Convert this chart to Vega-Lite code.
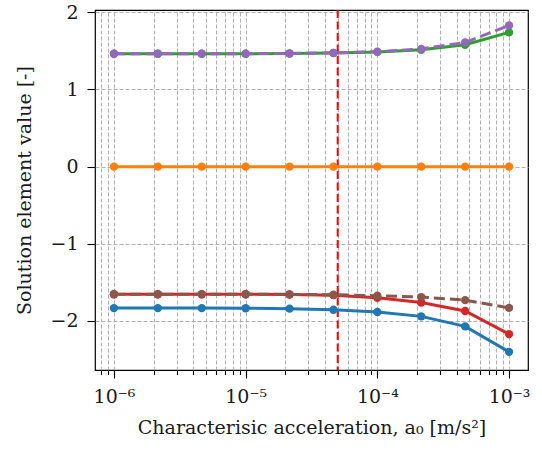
{
  "$schema": "https://vega.github.io/schema/vega-lite/v6.json",
  "width": 433,
  "height": 360,
  "autosize": "none",
  "padding": {"left": 95, "top": 10, "right": 14, "bottom": 83},
  "background": "white",
  "config": {
    "view": {"stroke": "black", "strokeWidth": 1.2},
    "font": "DejaVu Serif",
    "axis": {"labelFont": "DejaVu Serif", "titleFont": "DejaVu Serif", "labelColor": "#1a1a1a", "titleColor": "#1a1a1a", "titleFontWeight": "normal", "domain": false, "tickColor": "black", "tickWidth": 1.1, "labelFontSize": 19, "titleFontSize": 19}
  },
  "datasets": {
    "pts": [
      {"a": 1e-6, "v": -1.833, "s": "blue"}, {"a": 2.154e-6, "v": -1.833, "s": "blue"}, {"a": 4.642e-6, "v": -1.833, "s": "blue"}, {"a": 1e-5, "v": -1.835, "s": "blue"}, {"a": 2.154e-5, "v": -1.84, "s": "blue"}, {"a": 4.642e-5, "v": -1.855, "s": "blue"}, {"a": 1e-4, "v": -1.883, "s": "blue"}, {"a": 2.154e-4, "v": -1.94, "s": "blue"}, {"a": 4.642e-4, "v": -2.07, "s": "blue"}, {"a": 1e-3, "v": -2.40, "s": "blue"},
      {"a": 1e-6, "v": 0, "s": "orange"}, {"a": 2.154e-6, "v": 0, "s": "orange"}, {"a": 4.642e-6, "v": 0, "s": "orange"}, {"a": 1e-5, "v": 0, "s": "orange"}, {"a": 2.154e-5, "v": 0, "s": "orange"}, {"a": 4.642e-5, "v": 0, "s": "orange"}, {"a": 1e-4, "v": 0, "s": "orange"}, {"a": 2.154e-4, "v": 0, "s": "orange"}, {"a": 4.642e-4, "v": 0, "s": "orange"}, {"a": 1e-3, "v": 0, "s": "orange"},
      {"a": 1e-6, "v": 1.463, "s": "green"}, {"a": 2.154e-6, "v": 1.463, "s": "green"}, {"a": 4.642e-6, "v": 1.463, "s": "green"}, {"a": 1e-5, "v": 1.464, "s": "green"}, {"a": 2.154e-5, "v": 1.466, "s": "green"}, {"a": 4.642e-5, "v": 1.473, "s": "green"}, {"a": 1e-4, "v": 1.487, "s": "green"}, {"a": 2.154e-4, "v": 1.515, "s": "green"}, {"a": 4.642e-4, "v": 1.58, "s": "green"}, {"a": 1e-3, "v": 1.74, "s": "green"},
      {"a": 1e-6, "v": -1.653, "s": "red"}, {"a": 2.154e-6, "v": -1.653, "s": "red"}, {"a": 4.642e-6, "v": -1.653, "s": "red"}, {"a": 1e-5, "v": -1.654, "s": "red"}, {"a": 2.154e-5, "v": -1.656, "s": "red"}, {"a": 4.642e-5, "v": -1.665, "s": "red"}, {"a": 1e-4, "v": -1.70, "s": "red"}, {"a": 2.154e-4, "v": -1.76, "s": "red"}, {"a": 4.642e-4, "v": -1.87, "s": "red"}, {"a": 1e-3, "v": -2.17, "s": "red"},
      {"a": 1e-6, "v": 1.463, "s": "purple"}, {"a": 2.154e-6, "v": 1.463, "s": "purple"}, {"a": 4.642e-6, "v": 1.463, "s": "purple"}, {"a": 1e-5, "v": 1.464, "s": "purple"}, {"a": 2.154e-5, "v": 1.467, "s": "purple"}, {"a": 4.642e-5, "v": 1.475, "s": "purple"}, {"a": 1e-4, "v": 1.49, "s": "purple"}, {"a": 2.154e-4, "v": 1.525, "s": "purple"}, {"a": 4.642e-4, "v": 1.61, "s": "purple"}, {"a": 1e-3, "v": 1.83, "s": "purple"},
      {"a": 1e-6, "v": -1.653, "s": "brown"}, {"a": 2.154e-6, "v": -1.653, "s": "brown"}, {"a": 4.642e-6, "v": -1.653, "s": "brown"}, {"a": 1e-5, "v": -1.653, "s": "brown"}, {"a": 2.154e-5, "v": -1.655, "s": "brown"}, {"a": 4.642e-5, "v": -1.66, "s": "brown"}, {"a": 1e-4, "v": -1.672, "s": "brown"}, {"a": 2.154e-4, "v": -1.69, "s": "brown"}, {"a": 4.642e-4, "v": -1.73, "s": "brown"}, {"a": 1e-3, "v": -1.83, "s": "brown"}
    ],
    "vline": [{"a": 5e-5}]
  },
  "layer": [
    {
      "data": {"name": "vline"},
      "mark": {"type": "rule", "strokeWidth": 0, "opacity": 0},
      "encoding": {
        "x": {"field": "a", "type": "quantitative", "scale": {"type": "log", "domain": [7.18e-7, 1.393e-3], "nice": false}, "axis": {"orient": "bottom", "values": [8e-7, 9e-7, 2e-6, 3e-6, 4e-6, 5e-6, 6e-6, 7e-6, 8e-6, 9e-6, 2e-5, 3e-5, 4e-5, 5e-5, 6e-5, 7e-5, 8e-5, 9e-5, 2e-4, 3e-4, 4e-4, 5e-4, 6e-4, 7e-4, 8e-4, 9e-4, 1e-6, 1e-5, 1e-4, 1e-3], "labels": false, "tickSize": 4.5, "grid": true, "gridColor": "#b0b0b0", "gridDash": [4, 2], "gridWidth": 1, "title": null}}
      }
    },
    {
      "data": {"name": "vline"},
      "mark": {"type": "rule", "color": "#ff0000", "strokeWidth": 2, "strokeDash": [8, 3.5]},
      "encoding": {
        "x": {"field": "a", "type": "quantitative", "axis": {"orient": "bottom", "values": [1e-6, 1e-5, 1e-4, 1e-3], "grid": false, "tickSize": 8, "labelPadding": 9, "labelExpr": "'10' + (datum.value < 5e-6 ? '⁻⁶' : datum.value < 5e-5 ? '⁻⁵' : datum.value < 5e-4 ? '⁻⁴' : '⁻³')", "title": "Characterisic acceleration, a₀ [m/s²]", "titlePadding": 12}}
      }
    },
    {
      "data": {"name": "pts"},
      "transform": [{"filter": "datum.s == 'blue'"}],
      "mark": {"type": "line", "color": "#1f77b4", "strokeWidth": 3, "point": {"filled": true, "size": 70, "color": "#1f77b4", "opacity": 1}},
      "encoding": {"x": {"field": "a", "type": "quantitative", "axis": null}, "y": {"field": "v", "type": "quantitative", "scale": {"domain": [-2.635, 2.03], "nice": false, "zero": false}, "axis": {"values": [-2, -1, 0, 1, 2], "format": "d", "grid": true, "gridColor": "#b0b0b0", "gridDash": [4, 2], "gridWidth": 1, "tickSize": 8, "labelPadding": 9, "title": "Solution element value [-]", "titlePadding": 15}}}
    },
    {
      "data": {"name": "pts"},
      "transform": [{"filter": "datum.s == 'orange'"}],
      "mark": {"type": "line", "color": "#ff7f0e", "strokeWidth": 3, "point": {"filled": true, "size": 70, "color": "#ff7f0e", "opacity": 1}},
      "encoding": {"x": {"field": "a", "type": "quantitative", "axis": null}, "y": {"field": "v", "type": "quantitative"}}
    },
    {
      "data": {"name": "pts"},
      "transform": [{"filter": "datum.s == 'green'"}],
      "mark": {"type": "line", "color": "#2ca02c", "strokeWidth": 3, "point": {"filled": true, "size": 70, "color": "#2ca02c", "opacity": 1}},
      "encoding": {"x": {"field": "a", "type": "quantitative", "axis": null}, "y": {"field": "v", "type": "quantitative"}}
    },
    {
      "data": {"name": "pts"},
      "transform": [{"filter": "datum.s == 'red'"}],
      "mark": {"type": "line", "color": "#d62728", "strokeWidth": 3, "point": {"filled": true, "size": 70, "color": "#d62728", "opacity": 1}},
      "encoding": {"x": {"field": "a", "type": "quantitative", "axis": null}, "y": {"field": "v", "type": "quantitative"}}
    },
    {
      "data": {"name": "pts"},
      "transform": [{"filter": "datum.s == 'purple'"}],
      "mark": {"type": "line", "color": "#9467bd", "strokeWidth": 3, "strokeDash": [11, 5], "point": {"filled": true, "size": 70, "color": "#9467bd", "opacity": 1}},
      "encoding": {"x": {"field": "a", "type": "quantitative", "axis": null}, "y": {"field": "v", "type": "quantitative"}}
    },
    {
      "data": {"name": "pts"},
      "transform": [{"filter": "datum.s == 'brown'"}],
      "mark": {"type": "line", "color": "#8c564b", "strokeWidth": 3, "strokeDash": [11, 5], "point": {"filled": true, "size": 70, "color": "#8c564b", "opacity": 1}},
      "encoding": {"x": {"field": "a", "type": "quantitative", "axis": null}, "y": {"field": "v", "type": "quantitative"}}
    }
  ],
  "resolve": {"axis": {"x": "independent"}}
}
